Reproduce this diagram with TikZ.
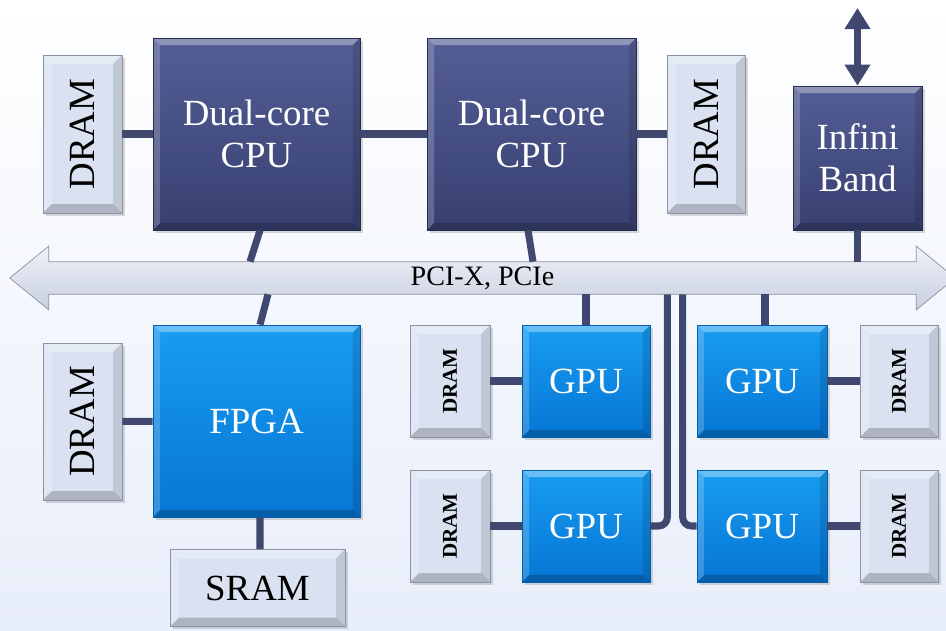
\documentclass[tikz,border=0pt]{standalone}
\usepackage{fontspec}
\setmainfont{Liberation Serif}
\usepackage{tikz}
\usetikzlibrary{arrows.meta,shadows,backgrounds}
\definecolor{linknavy}{RGB}{64,72,112}
\definecolor{cputop}{RGB}{84,94,150}
\definecolor{cpubot}{RGB}{56,64,112}
\definecolor{gputop}{RGB}{24,156,242}
\definecolor{gpubot}{RGB}{6,118,212}
\definecolor{dramfill}{RGB}{218,226,242}
\definecolor{dramedge}{RGB}{138,146,164}
\definecolor{bustop}{RGB}{238,242,250}
\definecolor{busbot}{RGB}{200,207,222}
\definecolor{bgblue}{RGB}{232,238,250}
\newcommand\boxfont{\fontsize{21}{24}\selectfont}
\newcommand\ppb{path picture bounding box}
\tikzset{
  bevel/.style={path picture={
      \fill[white,opacity=.35] (\ppb.north west) -- (\ppb.north east)
        -- ([shift={(-#1,-#1)}]\ppb.north east) -- ([shift={(#1,-#1)}]\ppb.north west) -- cycle;
      \fill[white,opacity=.2] (\ppb.north west) -- (\ppb.south west)
        -- ([shift={(#1,#1)}]\ppb.south west) -- ([shift={(#1,-#1)}]\ppb.north west) -- cycle;
      \fill[black,opacity=.12] (\ppb.north east) -- (\ppb.south east)
        -- ([shift={(-#1,#1)}]\ppb.south east) -- ([shift={(-#1,-#1)}]\ppb.north east) -- cycle;
      \fill[black,opacity=.2] (\ppb.south west) -- (\ppb.south east)
        -- ([shift={(-#1,#1)}]\ppb.south east) -- ([shift={(#1,#1)}]\ppb.south west) -- cycle;
  }},
  cpu/.style={rectangle,draw=cpubot!70!black,top color=cputop,bottom color=cpubot,
              text=white,align=center,font=\boxfont,inner sep=2pt,
              minimum width=4.14cm,minimum height=3.84cm,bevel=4pt,
              drop shadow={opacity=.3,shadow xshift=1.5pt,shadow yshift=-1.5pt}},
  gpu/.style={cpu,draw=gpubot!80!black,top color=gputop,bottom color=gpubot,
              minimum width=2.56cm,minimum height=2.24cm},
  dram/.style={rectangle,draw=dramedge,fill=dramfill,text=black,font=\boxfont,inner sep=1pt,
               minimum width=1.58cm,minimum height=3.16cm,bevel=5pt,
               drop shadow={opacity=.3,shadow xshift=1.5pt,shadow yshift=-1.5pt}},
  sdram/.style={dram,font=\fontsize{12}{14}\selectfont\bfseries,
                minimum width=1.6cm,minimum height=2.24cm},
  bus/.style={rectangle,minimum width=17.34cm,minimum height=0.64cm,inner sep=0pt,
              font=\fontsize{16}{18}\selectfont},
  busarrow/.style={draw=busbot!70!black,top color=bustop,middle color=white,bottom color=busbot},
  link/.style={draw=linknavy,line width=4pt},
}

\begin{document}
\begin{tikzpicture}[x=0.02cm,y=-0.02cm]
  \useasboundingbox (0,0) rectangle (946,631);

  % host: two CPUs with their memory, InfiniBand port
  \node[dram] (dramA) at (82.5,134) {\rotatebox{90}{DRAM}};
  \node[cpu] (cpuA) at (256.5,134) {Dual-core\\CPU};
  \node[cpu,minimum width=4.18cm] (cpuB) at (531.5,134) {Dual-core\\CPU};
  \node[dram,minimum width=1.56cm] (dramB) at (706,134) {\rotatebox{90}{DRAM}};
  \node[cpu,minimum width=2.58cm,minimum height=2.88cm] (ib) at (857.5,158) {Infini\\Band};
  \coordinate (net) at (857.5,8);

  % shared bus, arrow body behind the label
  \node[bus] (pci) at (482.5,278) {\raisebox{-3pt}{PCI-X, PCIe}};
  \begin{scope}[on background layer]
    \shade[top color=white,bottom color=bgblue] (0,0) rectangle (946,631);
    \shade[busarrow] (pci.north west) -- (pci.north east) -- ([yshift=0.31cm]pci.north east)
      -- ([xshift=0.78cm]pci.east) -- ([yshift=-0.31cm]pci.south east) -- (pci.south east)
      -- (pci.south west) -- ([yshift=-0.31cm]pci.south west) -- ([xshift=-0.78cm]pci.west)
      -- ([yshift=0.31cm]pci.north west) -- cycle;
  \end{scope}

  % FPGA card
  \node[dram,minimum height=3.14cm] (dramC) at (82.5,421.5) {\rotatebox{90}{DRAM}};
  \node[gpu,minimum width=4.14cm,minimum height=3.84cm] (fpga) at (256.5,421) {FPGA};
  \node[dram,minimum width=3.5cm,minimum height=1.54cm] (sram) at (257.5,588) {SRAM};

  % GPU cards
  \node[sdram] (dramD) at (450,381) {\rotatebox{90}{DRAM}};
  \node[gpu] (gpuA) at (586,381) {GPU};
  \node[sdram] (dramE) at (450,526) {\rotatebox{90}{DRAM}};
  \node[gpu] (gpuB) at (586,526) {GPU};
  \node[gpu,minimum width=2.6cm] (gpuC) at (762,381) {GPU};
  \node[sdram,minimum width=1.56cm] (dramF) at (899,381) {\rotatebox{90}{DRAM}};
  \node[gpu,minimum width=2.6cm] (gpuD) at (762,526) {GPU};
  \node[sdram,minimum width=1.56cm] (dramG) at (899,526) {\rotatebox{90}{DRAM}};

  % links
  \draw[link] (dramA) -- (cpuA);
  \draw[link] (cpuA) -- (cpuB);
  \draw[link] (cpuB) -- (dramB);
  \draw[link] ([xshift=0.07cm]cpuA.south) -- ([xshift=-0.13cm]cpuA.south |- pci.north);
  \draw[link] ([xshift=-0.07cm]cpuB.south) -- ([xshift=0.03cm]cpuB.south |- pci.north);
  \draw[link] (ib) -- (ib.south |- pci.north);
  \draw[link,{Triangle[length=12pt,width=14pt]}-{Triangle[length=12pt,width=14pt]}] (ib.north) -- (net);
  \draw[link] ([xshift=0.23cm]fpga.north |- pci.south) -- ([xshift=0.07cm]fpga.north);
  \draw[link] (dramC) -- (fpga);
  \draw[link] ([xshift=0.07cm]fpga.south) -- ([xshift=0.05cm]sram.north);
  \draw[link] (gpuA.north |- pci.south) -- (gpuA);
  \draw[link] ([xshift=0.06cm]gpuC.north |- pci.south) -- ([xshift=0.06cm]gpuC.north);
  \draw[link,rounded corners=5pt] (gpuB.east) -| ([xshift=0.34cm]gpuB.east |- pci.south);
  \draw[link,rounded corners=5pt] (gpuD.west) -| ([xshift=-0.28cm]gpuD.west |- pci.south);
  \draw[link] (dramD) -- (gpuA);
  \draw[link] (dramE) -- (gpuB);
  \draw[link] (gpuC) -- (dramF);
  \draw[link] (gpuD) -- (dramG);
\end{tikzpicture}
\end{document}
